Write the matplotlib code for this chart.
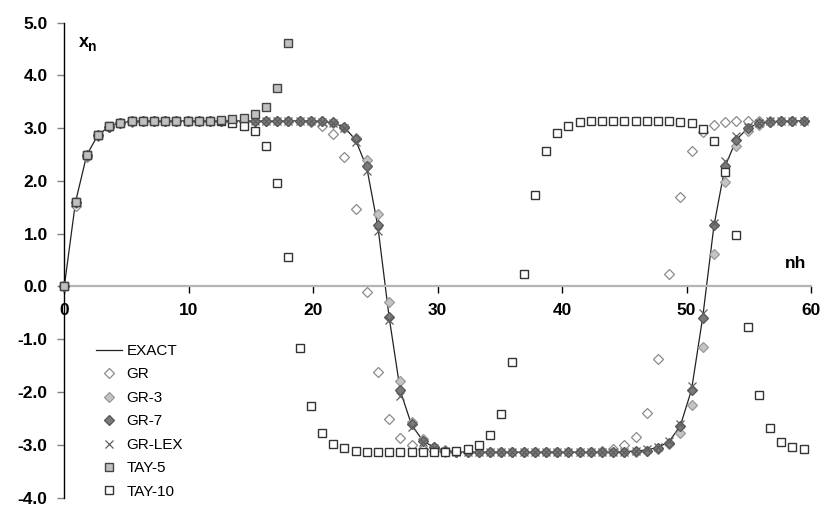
import numpy as np
import matplotlib
matplotlib.use("Agg")
import matplotlib.pyplot as plt

plt.rcParams['font.family'] = ['Liberation Sans', 'DejaVu Sans']

# step (points every 0.9 along nh)
h = 0.9
n_pts = 67
nh = np.arange(n_pts) * h

exact = [0.00, 1.60, 2.49, 2.87, 3.03, 3.10, 3.13, 3.14, 3.14, 3.14,
         3.14, 3.14, 3.14, 3.14, 3.14, 3.14, 3.14, 3.14, 3.14, 3.14,
         3.14, 3.14, 3.14, 3.13, 3.10, 3.02, 2.78, 2.26, 1.13, -0.58,
         -1.98, -2.62, -2.92, -3.05, -3.11, -3.13, -3.14, -3.14, -3.14, -3.14,
         -3.14, -3.14, -3.14, -3.14, -3.14, -3.14, -3.14, -3.14, -3.14, -3.14,
         -3.13, -3.12, -3.10, -3.05, -2.94, -2.64, -1.96, -0.58, 1.15, 2.28,
         2.78, 3.00, 3.09, 3.12, 3.13, 3.14, 3.14]

gr = [0.00, 1.53, 2.46, 2.85, 3.02, 3.09, 3.12, 3.13, 3.14, 3.14,
      3.14, 3.14, 3.14, 3.14, 3.14, 3.14, 3.14, 3.14, 3.14, 3.14,
      3.14, 3.13, 3.11, 3.05, 2.89, 2.45, 1.46, -0.11, -1.62, -2.51,
      -2.88, -3.01, -3.08, -3.11, -3.13, -3.14, -3.14, -3.14, -3.14, -3.14,
      -3.14, -3.14, -3.14, -3.14, -3.14, -3.14, -3.14, -3.13, -3.12, -3.09,
      -3.01, -2.85, -2.40, -1.37, 0.23, 1.70, 2.56, 2.92, 3.07, 3.11,
      3.13, 3.14, 3.14, 3.14, 3.14, 3.14, 3.14]

gr3 = [0.00, 1.58, 2.48, 2.87, 3.03, 3.10, 3.13, 3.14, 3.14, 3.14,
       3.14, 3.14, 3.14, 3.14, 3.14, 3.14, 3.14, 3.14, 3.14, 3.14,
       3.14, 3.14, 3.14, 3.13, 3.09, 3.01, 2.81, 2.39, 1.38, -0.30,
       -1.79, -2.57, -2.89, -3.04, -3.10, -3.13, -3.14, -3.14, -3.14, -3.14,
       -3.14, -3.14, -3.14, -3.14, -3.14, -3.14, -3.14, -3.14, -3.14, -3.14,
       -3.14, -3.13, -3.12, -3.08, -2.98, -2.77, -2.25, -1.14, 0.61, 1.98,
       2.66, 2.94, 3.06, 3.11, 3.13, 3.14, 3.14]

gr7 = [0.00, 1.60, 2.49, 2.87, 3.03, 3.10, 3.13, 3.14, 3.14, 3.14,
       3.14, 3.14, 3.14, 3.14, 3.14, 3.14, 3.14, 3.14, 3.14, 3.14,
       3.14, 3.14, 3.14, 3.13, 3.11, 3.02, 2.79, 2.28, 1.16, -0.58,
       -1.96, -2.60, -2.92, -3.05, -3.11, -3.13, -3.14, -3.14, -3.14, -3.14,
       -3.14, -3.14, -3.14, -3.14, -3.14, -3.14, -3.14, -3.14, -3.14, -3.14,
       -3.13, -3.12, -3.11, -3.06, -2.96, -2.64, -1.96, -0.59, 1.16, 2.29,
       2.77, 3.00, 3.09, 3.12, 3.13, 3.14, 3.14]

grlex = [0.00, 1.61, 2.50, 2.88, 3.04, 3.10, 3.13, 3.14, 3.14, 3.14,
         3.14, 3.14, 3.14, 3.14, 3.14, 3.14, 3.14, 3.14, 3.14, 3.14,
         3.14, 3.14, 3.13, 3.12, 3.10, 3.00, 2.74, 2.18, 1.05, -0.63,
         -2.07, -2.66, -2.95, -3.07, -3.12, -3.13, -3.14, -3.14, -3.14, -3.14,
         -3.14, -3.14, -3.14, -3.14, -3.14, -3.14, -3.14, -3.14, -3.14, -3.14,
         -3.13, -3.11, -3.09, -3.04, -2.93, -2.60, -1.88, -0.51, 1.20, 2.37,
         2.85, 3.03, 3.10, 3.13, 3.14, 3.14, 3.14]

tay5 = [0.00, 1.60, 2.50, 2.88, 3.04, 3.10, 3.13, 3.14, 3.14, 3.14,
        3.14, 3.14, 3.14, 3.14, 3.15, 3.17, 3.20, 3.26, 3.40, 3.77,
        4.62]

tay10 = [0.00, 1.60, 2.50, 2.88, 3.04, 3.10, 3.13, 3.14, 3.14, 3.14,
         3.14, 3.14, 3.14, 3.14, 3.13, 3.10, 3.05, 2.94, 2.66, 1.96,
         0.56, -1.16, -2.26, -2.77, -2.98, -3.07, -3.11, -3.13, -3.14, -3.14,
         -3.14, -3.14, -3.14, -3.14, -3.13, -3.12, -3.08, -3.00, -2.82, -2.41,
         -1.44, 0.23, 1.74, 2.56, 2.91, 3.05, 3.11, 3.13, 3.14, 3.14,
         3.14, 3.14, 3.14, 3.14, 3.13, 3.12, 3.09, 2.99, 2.75, 2.17,
         0.97, -0.77, -2.06, -2.68, -2.95, -3.05, -3.09]

x_ticks = [0, 10, 20, 30, 40, 50, 60]
y_ticks = [-4.0, -3.0, -2.0, -1.0, 0.0, 1.0, 2.0, 3.0, 4.0, 5.0]

W, H = 830, 521
fig = plt.figure(figsize=(W / 100, H / 100), dpi=100)
x0, x1 = 64.3, 811.0
ytop, ybot = 22.7, 497.5
ax = fig.add_axes([x0 / W, 1 - ybot / H, (x1 - x0) / W, (ybot - ytop) / H])
ax.set_xlim(0, 60)
ax.set_ylim(-4, 5)

ax.spines['top'].set_visible(False)
ax.spines['right'].set_visible(False)
ax.spines['left'].set_color('black')
ax.spines['left'].set_linewidth(1.0)
ax.spines['bottom'].set_position(('data', 0))
ax.spines['bottom'].set_color('#b4b4b4')
ax.spines['bottom'].set_linewidth(1.6)

ax.set_xticks(x_ticks)
ax.set_xticklabels([str(t) for t in x_ticks], fontsize=12.5, fontweight='bold')
ax.set_yticks(y_ticks)
ax.set_yticklabels([f"{t:.1f}" for t in y_ticks], fontsize=12.5, fontweight='bold')
ax.tick_params(axis='x', direction='out', length=5, width=1, color='black', pad=7)
ax.tick_params(axis='y', direction='out', length=5, width=1, color='#808080', pad=7)

mk = dict(linestyle='none', clip_on=False)
l_exact, = ax.plot(nh, exact, color='#222222', lw=0.9, zorder=2, label='EXACT')
l_gr, = ax.plot(nh, gr, marker='D', ms=4.8, mfc='white', mec='#8a8a8a', mew=0.9,
                zorder=3, label='GR', **mk)
l_gr3, = ax.plot(nh, gr3, marker='D', ms=4.8, mfc='#c4c4c4', mec='#999999', mew=0.9,
                 zorder=4, label='GR-3', **mk)
l_gr7, = ax.plot(nh, gr7, marker='D', ms=4.8, mfc='#7a7a7a', mec='#555555', mew=0.9,
                 zorder=5, label='GR-7', **mk)
l_lex, = ax.plot(nh, grlex, marker='x', ms=6, mec='#606060', mew=0.9,
                 zorder=6, label='GR-LEX', **mk)
l_t10, = ax.plot(nh[:len(tay10)], tay10, marker='s', ms=6.2, mfc='white', mec='#333333', mew=1.0,
                 zorder=7, label='TAY-10', **mk)
l_t5, = ax.plot(nh[:len(tay5)], tay5, marker='s', ms=6.2, mfc='#c0c0c0', mec='#444444', mew=1.0,
                zorder=8, label='TAY-5', **mk)

handles = [l_exact, l_gr, l_gr3, l_gr7, l_lex, l_t5, l_t10]
leg = fig.legend(handles=handles, labels=[hd.get_label() for hd in handles],
                 loc='upper left', bbox_to_anchor=(96 / W, 1 - 344 / H),
                 frameon=False, fontsize=11, handlelength=1.7, handletextpad=0.3,
                 labelspacing=0.62, borderpad=0, borderaxespad=0)

fig.text(79 / W, 1 - 47 / H, 'x', fontsize=13, fontweight='bold', ha='left', va='baseline')
fig.text(88 / W, 1 - 51 / H, 'n', fontsize=10, fontweight='bold', ha='left', va='baseline')
fig.text(785 / W, 1 - 268 / H, 'nh', fontsize=12.5, fontweight='bold', ha='left', va='baseline')

fig.savefig('out.png', dpi=100)
